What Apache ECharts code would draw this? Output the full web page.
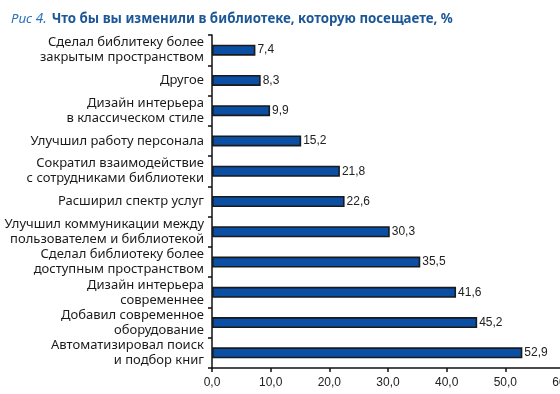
<!DOCTYPE html>
<html><head><meta charset="utf-8">
<script src="https://cdn.jsdelivr.net/npm/echarts@6/dist/echarts.min.js"></script>
<style>html,body{margin:0;padding:0;background:#fff}#c{width:560px;height:394px}</style>
</head><body><div id="c"></div>
<script>
const categories = [
  'Сделал библитеку более\nзакрытым пространством',
  'Другое',
  'Дизайн интерьера\nв классическом стиле',
  'Улучшил работу персонала',
  'Сократил взаимодействие\nс сотрудниками библиотеки',
  'Расширил спектр услуг',
  'Улучшил коммуникации между\nпользователем и библиотекой',
  'Сделал библиотеку более\nдоступным пространством',
  'Дизайн интерьера\nсовременнее',
  'Добавил современное\nоборудование',
  'Автоматизировал поиск\nи подбор книг'
];
const values = [7.4, 8.3, 9.9, 15.2, 21.8, 22.6, 30.3, 35.5, 41.6, 45.2, 52.9];
const titlePrefix = 'Рис 4.';
const titleText = 'Что бы вы изменили в библиотеке, которую посещаете, %';

const fmt = v => v.toFixed(1).replace('.', ',');
const chart = echarts.init(document.getElementById('c'), null, {renderer: 'canvas'});
chart.setOption({
  animation: false,
  title: {
    text: '{a|' + titlePrefix + '} {b|' + titleText + '}',
    left: 6, top: 5,
    textStyle: {
      rich: {
        a: {fontFamily: 'Noto Sans', fontStyle: 'italic', fontWeight: 'normal', fontSize: 13.5, color: '#2a72bd'},
        b: {fontFamily: 'Noto Sans', fontWeight: 'bold', fontSize: 13.3, color: '#1b5696'}
      }
    }
  },
  grid: {left: 212, right: -4, top: 35, bottom: 26, containLabel: false, outerBoundsMode: 'none'},
  xAxis: {
    type: 'value', min: 0, max: 60, interval: 10,
    axisLine: {show: true, lineStyle: {color: '#111', width: 1.5}},
    axisTick: {show: true, length: 4, lineStyle: {color: '#111', width: 1.5}},
    splitLine: {show: false},
    axisLabel: {formatter: fmt, fontFamily: 'Liberation Sans', fontSize: 12, color: '#222', margin: 9}
  },
  yAxis: {
    type: 'category', data: categories, inverse: true,
    axisLine: {show: true, lineStyle: {color: '#111', width: 1.5}},
    axisTick: {show: true, length: 4, lineStyle: {color: '#111', width: 1.5}},
    axisLabel: {fontFamily: 'Noto Sans', fontSize: 13, color: '#1a1a1a', lineHeight: 15, margin: 8}
  },
  series: [{
    type: 'bar', data: values, barWidth: 11,
    itemStyle: {color: '#0a4fa3', borderColor: '#1a1a1a', borderWidth: 1.6},
    label: {show: true, position: 'right', distance: 2, formatter: p => fmt(p.value),
      fontFamily: 'Liberation Sans', fontSize: 12, color: '#222'}
  }]
});
</script></body></html>
